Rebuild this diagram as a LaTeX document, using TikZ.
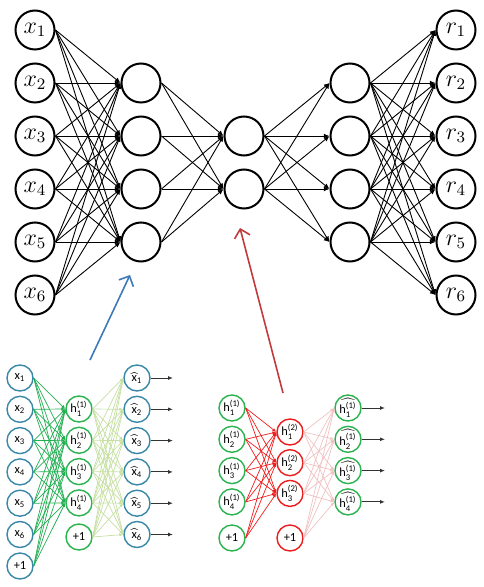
\documentclass[tikz,border=0pt]{standalone}
\usepackage{amsmath}
\usepackage{fontspec}
\newfontfamily\smallsans{Carlito}
\usetikzlibrary{positioning, arrows.meta}
\definecolor{tealblue}{HTML}{3A88A8}
\definecolor{leafgreen}{HTML}{2AB34F}
\definecolor{edgegreen}{HTML}{22AE52}
\definecolor{palegreen}{HTML}{C6DFA2}
\definecolor{brightred}{HTML}{EE1D1D}
\definecolor{palered}{HTML}{F0C2C2}
\definecolor{arrowblue}{HTML}{3E79B9}
\definecolor{arrowred}{HTML}{C13A3C}
\tikzset{
    bignode/.style={draw, circle, minimum size=19.5pt, inner sep=0pt, line width=1pt, font=\fontsize{11.5}{13}\selectfont},
    smallnode/.style={draw, circle, minimum size=13pt, inner sep=0pt, line width=0.7pt, fill=white, font={\smallsans\fontsize{6.2}{7}\selectfont}},
    inlayer/.style={smallnode, draw=tealblue},
    greenlayer/.style={smallnode, draw=leafgreen},
    redlayer/.style={smallnode, draw=brightred},
    edge/.style={->, line width=0.45pt},
    thinedge/.style={-{Latex[length=2pt, width=1.6pt]}, line width=0.35pt},
    outarrow/.style={-{Latex[length=2.5pt, width=2pt]}, line width=0.5pt, black!80},
    pointer/.style={-{Straight Barb[length=4pt, width=8pt]}, line width=0.8pt}
}
\begin{document}
\begin{tikzpicture}[x=0.5pt, y=-0.5pt, >={Latex[length=2.8pt, width=2.4pt]}]
  \useasboundingbox (0,0) rectangle (483,587);
  % top network
  \foreach \i in {1,...,6}{
    \node(x\i)[bignode] at (35,{30+53*(\i-1)}){$x_{\i}$};
    \node(r\i)[bignode] at (456,{30+53*(\i-1)}){$r_{\i}$};
  }
  \foreach \j in {1,...,4}{
    \node(a\j)[bignode] at (141,{30+53*\j}){};
    \node(b\j)[bignode] at (350,{30+53*\j}){};
  }
  \node(m1)[bignode] at (244,136){};
  \node(m2)[bignode] at (244,189){};
  \foreach \i in {1,...,6}
    \foreach \j in {1,...,4}
      \draw[edge](x\i.east)--(a\j.west);
  \foreach \j in {1,...,4}
    \foreach \k in {1,2}{
      \draw[edge](a\j.east)--(m\k.west);
      \draw[edge](m\k.east)--(b\j.west);
    }
  \foreach \j in {1,...,4}
    \foreach \i in {1,...,6}
      \draw[edge](b\j.east)--(r\i.west);

  % bottom left network
  \foreach \i in {1,...,6}{
    \node(p\i)[inlayer] at (20,{378+31.3*(\i-1)}){x\textsubscript{\i}};
    \node(o\i)[inlayer] at (137,{378+31.3*(\i-1)}){$\widehat{\text{x}}_{\text{\i}}$};
    \coordinate(oe\i) at (173,{378+31.3*(\i-1)});
  }
  \node(p7)[inlayer] at (20,566){+1};
  \foreach \j in {1,...,4}
    \node(q\j)[greenlayer] at (79,{409+31.3*(\j-1)}){h$^{\text{(1)}}_{\text{\j}}$};
  \node(q5)[greenlayer] at (79,537){+1};
  \foreach \i in {1,...,7}
    \foreach \j in {1,...,4}
      \draw[thinedge, edgegreen](p\i.east)--(q\j.west);
  \foreach \j in {1,...,5}
    \foreach \i in {1,...,6}
      \draw[thinedge, palegreen](q\j.east)--(o\i.west);
  \foreach \i in {1,...,6}
    \draw[outarrow](o\i)--(oe\i);

  % bottom right network
  \foreach \j in {1,...,4}{
    \node(s\j)[greenlayer] at (232,{408+31.3*(\j-1)}){h$^{\text{(1)}}_{\text{\j}}$};
    \node(u\j)[greenlayer] at (348,{408+31.3*(\j-1)}){$\widehat{\text{h}^{\text{(1)}}_{\text{\j}}}$};
    \coordinate(ue\j) at (385,{408+31.3*(\j-1)});
  }
  \node(s5)[greenlayer] at (232,538){+1};
  \foreach \k in {1,2,3}
    \node(t\k)[redlayer] at (290,{432+30.7*(\k-1)}){h$^{\text{(2)}}_{\text{\k}}$};
  \node(t4)[redlayer] at (290,538){+1};
  \foreach \j in {1,...,5}
    \foreach \k in {1,2,3}
      \draw[thinedge, brightred](s\j.east)--(t\k.west);
  \foreach \k in {1,...,4}
    \foreach \j in {1,...,4}
      \draw[thinedge, palered](t\k.east)--(u\j.west);
  \foreach \j in {1,...,4}
    \draw[outarrow](u\j)--(ue\j);

  % pointers from the small networks to the big one
  \coordinate(blueS) at (90,360);
  \coordinate(blueE) at (130,275);
  \coordinate(redS) at (283,393);
  \coordinate(redE) at (240,228);
  \draw[pointer, arrowblue](blueS)--(blueE);
  \draw[pointer, arrowred](redS)--(redE);
\end{tikzpicture}
\end{document}
